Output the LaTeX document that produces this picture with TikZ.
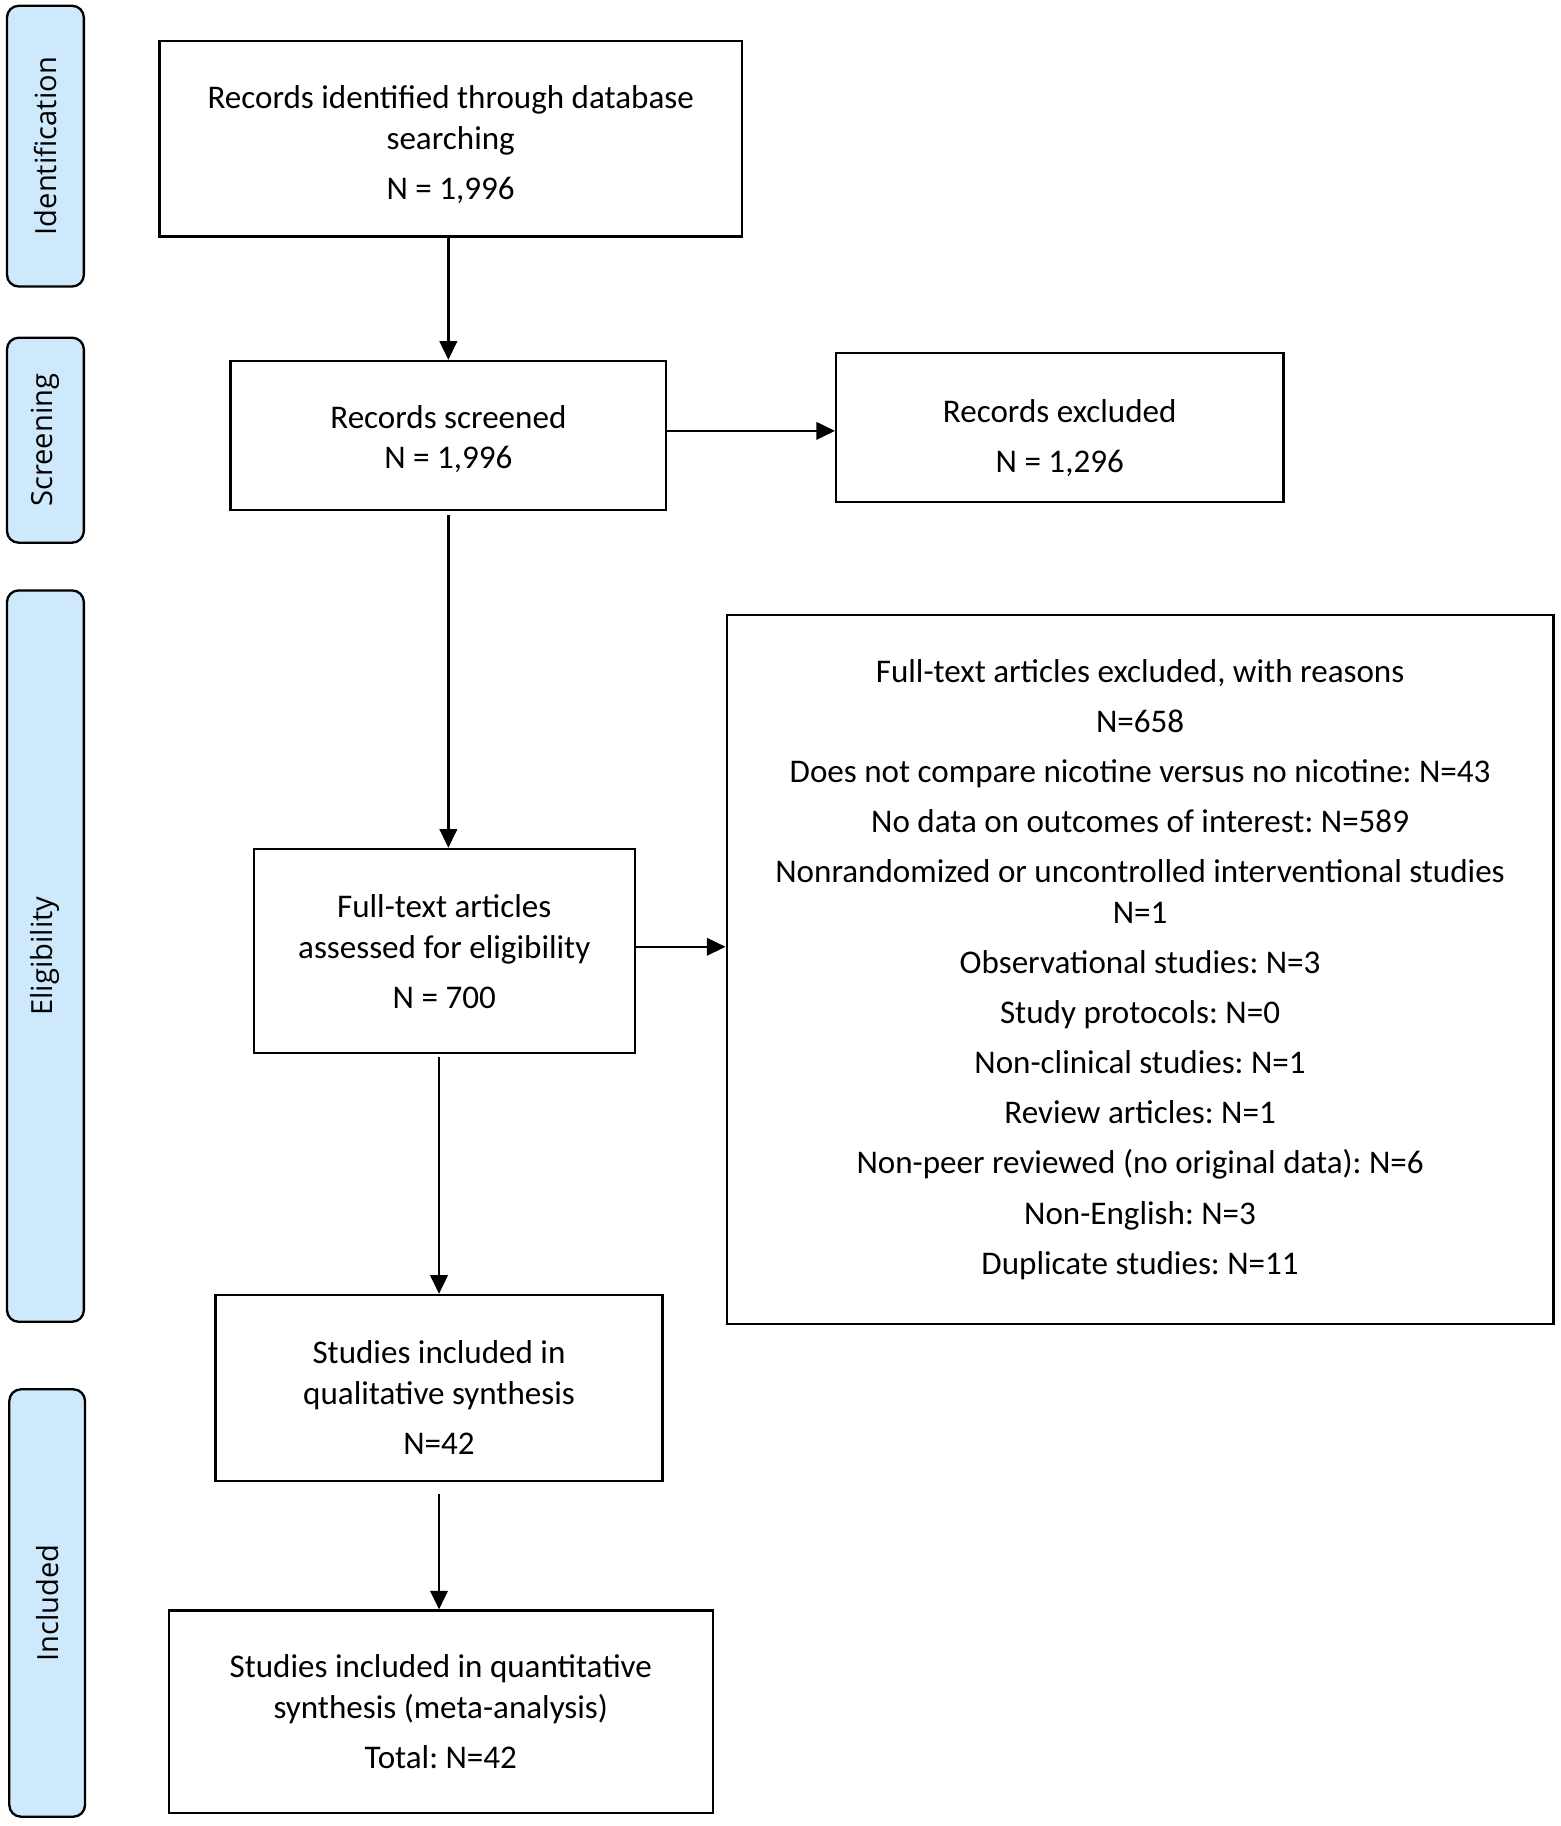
\documentclass[tikz,border=0pt]{standalone}
\usepackage{fontspec}
\setmainfont{Carlito}
\newfontfamily\stagefont{Open Sans}
\usetikzlibrary{arrows.meta}
\definecolor{stageblue}{RGB}{206,233,251}
\frenchspacing
\begin{document}
\begin{tikzpicture}[x=0.5pt,y=-0.5pt,
  box/.style={draw=black, line width=1pt, inner sep=0pt},
  txt/.style={inner sep=0pt, align=center,
    font=\frenchspacing\fontsize{14.2}{17.5}\selectfont},
  stage/.style={draw=black, line width=1pt, fill=stageblue, rounded corners=5pt,
    rotate=90, inner sep=0pt, minimum height=33pt,
    font=\stagefont\fontsize{12.5}{15}\selectfont},
  arr/.style={line width=1pt, -{Triangle[length=8pt,width=7.5pt]}}
]
\useasboundingbox (0,0) rectangle (1340,1568);
% stage labels
\node[stage, minimum width=120.5pt] (sid) at (39,125.5) {Identification};
\node[stage, minimum width=88pt] (ssc) at (39,378) {Screening};
\node[stage, minimum width=314pt] (sel) at (39,821) {Eligibility};
\node[stage, minimum width=183.5pt, minimum height=32.5pt] (sin) at (40.5,1376.5) {Included};
% boxes
\node[box, minimum width=250pt, minimum height=84pt] (b1) at (387,119) {};
\node[txt] (t1) at (387,124)
  {Records identified through database\\searching\\[4pt]N = 1,996};
\node[box, minimum width=187pt, minimum height=64pt] (b2) at (385,374) {};
\node[txt] (t2) at (385,377) {Records screened\\N = 1,996};
\node[box, minimum width=192pt, minimum height=64pt] (b3) at (910,367) {};
\node[txt] (t3) at (910,376) {Records excluded\\[4pt]N = 1,296};
\node[box, minimum width=163.5pt, minimum height=87.5pt] (b4) at (381.5,816.5) {};
\node[txt] (t4) at (381.5,817.5)
  {Full-text articles\\assessed for eligibility\\[4pt]N = 700};
\node[box, minimum width=355pt, minimum height=304.5pt] (b5) at (979,832.5) {};
\node[txt] (t5) at (979,832.5)
  {Full-text articles excluded, with reasons\\[4pt]
   N=658\\[4pt]
   Does not compare nicotine versus no nicotine: N=43\\[4pt]
   No data on outcomes of interest: N=589\\[4pt]
   Nonrandomized or uncontrolled interventional studies\\
   N=1\\[4pt]
   Observational studies: N=3\\[4pt]
   Study protocols: N=0\\[4pt]
   Non-clinical studies: N=1\\[4pt]
   Review articles: N=1\\[4pt]
   Non-peer reviewed (no original data): N=6\\[4pt]
   Non-English: N=3\\[4pt]
   Duplicate studies: N=11};
\node[box, minimum width=192pt, minimum height=80pt] (b6) at (377,1192) {};
\node[txt] (t6) at (377,1200)
  {Studies included in\\qualitative synthesis\\[4pt]N=42};
\node[box, minimum width=233.5pt, minimum height=87pt] (b7) at (378.5,1470) {};
\node[txt] (t7) at (378.5,1470)
  {Studies included in quantitative\\synthesis (meta-analysis)\\[4pt]Total: N=42};
% connectors
\draw[arr] (b1.south -| b2.north) -- (b2.north);
\draw[arr] ([yshift=2pt]b2.east) -- ([yshift=2pt]b2.east -| b3.west);
\draw[arr, shorten <=1.5pt] (b2.south) -- (b2.south |- b4.north);
\draw[arr] ([yshift=1.75pt]b4.east) -- ([yshift=1.75pt]b4.east -| b5.west);
\draw[arr, shorten <=1.5pt] (b6.north |- b4.south) -- (b6.north);
\draw[arr, shorten <=5pt] (b6.south) -- (b6.south |- b7.north);
\end{tikzpicture}
\end{document}
